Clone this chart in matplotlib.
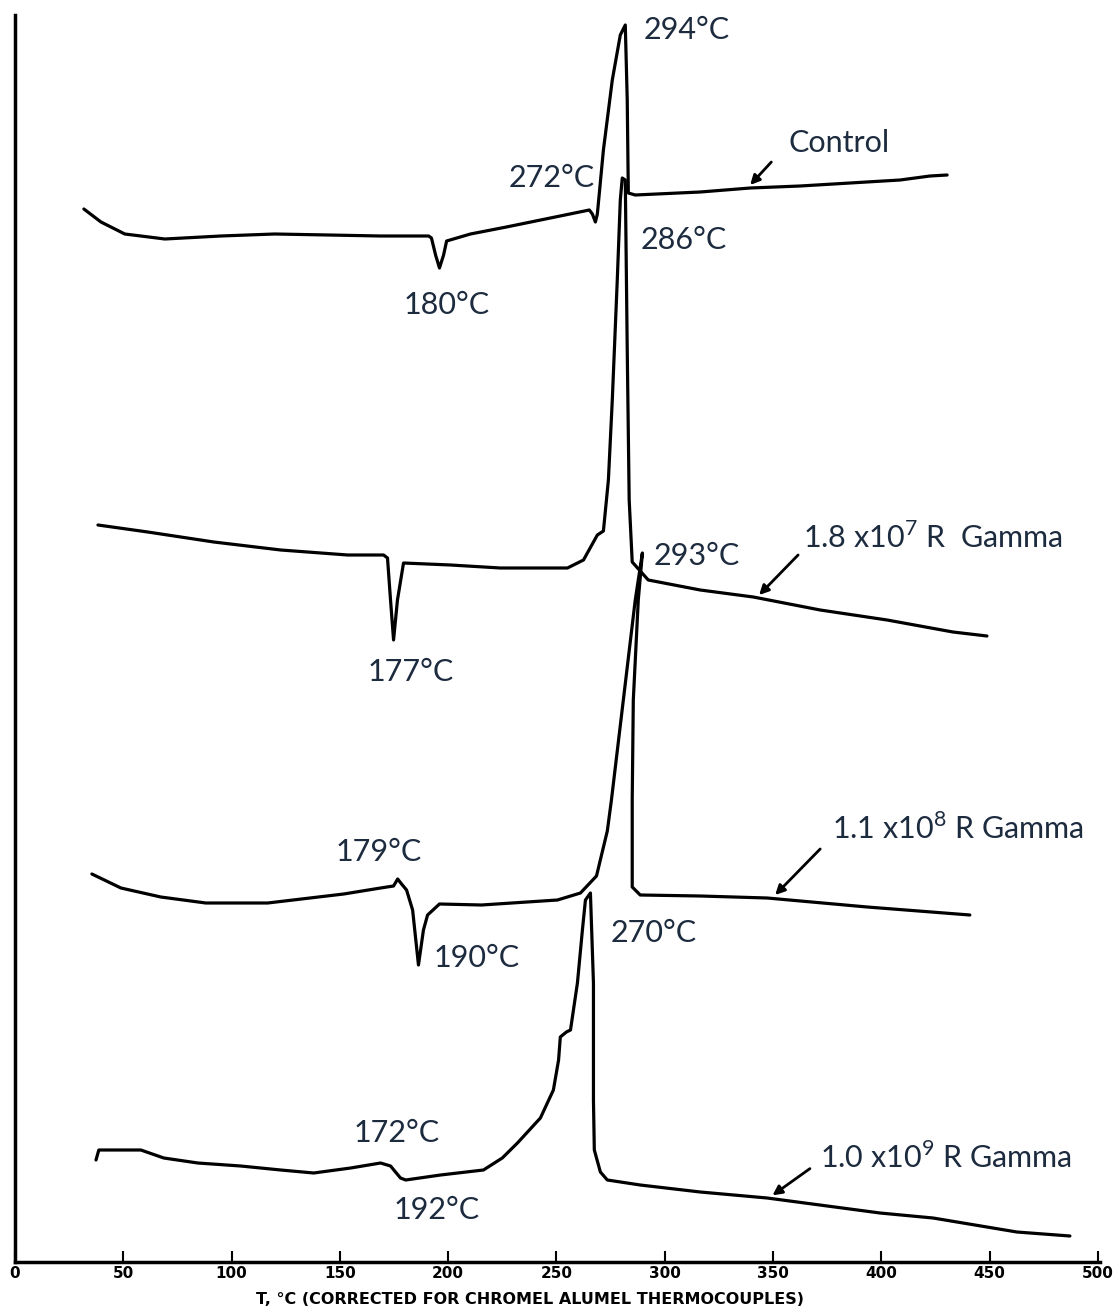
import matplotlib.pyplot as plt

# temperatures (deg C) and signal heights (arbitrary units)
t_control = [31.8, 39.7, 50.7, 69.2, 95.0, 119.9, 144.8, 168.8, 191.0, 192.3, 194.2, 196.0, 197.9,
             199.3, 210.3, 226.9, 247.2, 265.2, 266.6, 268.0, 268.9, 271.7, 275.8, 279.5, 281.8,
             282.7, 283.2, 286.4, 316.4, 339.5, 362.5, 385.6, 408.7, 422.5, 430.4]
y_control = [1053, 1040, 1028, 1023, 1026, 1028, 1027, 1026, 1026, 1024, 1007, 994, 1007,
             1021, 1028, 1035, 1044, 1052, 1048, 1040, 1048, 1112, 1182, 1227, 1237,
             1162, 1069, 1067, 1070, 1074, 1076, 1079, 1082, 1086, 1087]

t_18e7 = [38.3, 61.3, 91.8, 122.7, 153.6, 170.2, 172.0, 173.4, 174.8, 176.6, 179.4, 201.1, 224.2,
          255.1, 262.5, 268.9, 271.7, 274.0, 275.8, 278.1, 279.5, 280.4, 281.8, 282.7, 283.6,
          285.0, 292.4, 316.4, 340.9, 371.8, 402.7, 433.1, 448.8]
y_18e7 = [737, 730, 720, 712, 707, 707, 704, 662, 622, 662, 699, 697, 694,
          694, 702, 727, 731, 782, 862, 982, 1062, 1084, 1082, 912, 762,
          700, 682, 672, 665, 652, 642, 630, 626]

t_11e8 = [35.5, 48.9, 67.3, 88.1, 116.7, 151.8, 168.8, 174.8, 176.7, 178.5, 180.8, 183.6, 186.3,
          188.6, 190.5, 196.0, 215.4, 250.5, 261.1, 268.5, 273.5, 275.4, 280.9, 286.4, 289.7,
          287.8, 285.5, 285.0, 285.0, 288.7, 316.4, 347.3, 393.5, 440.9]
y_11e8 = [388, 374, 365, 359, 359, 368, 374, 376, 383, 378, 372, 352, 297,
          332, 347, 358, 357, 362, 369, 386, 431, 462, 562, 662, 709,
          662, 562, 462, 375, 367, 366, 364, 355, 347]

t_10e9 = [37.4, 38.7, 58.1, 68.7, 84.4, 104.2, 122.7, 137.9, 155.0, 168.8, 173.4, 178.0, 180.4,
          196.5, 216.3, 225.0, 232.0, 242.6, 248.6, 251.0, 251.8, 254.6, 256.5, 259.7, 262.0, 263.4,
          265.7, 267.1, 267.1, 267.5, 270.3, 273.5, 288.7, 316.4, 347.3, 399.4, 423.9, 462.6, 487.1]
y_10e9 = [102, 112, 112, 104, 99, 96, 92, 89, 94, 99, 96, 84, 82,
          87, 92, 104, 119, 144, 172, 202, 225, 230, 232, 279, 332, 362,
          369, 279, 162, 112, 90, 82, 77, 70, 64, 49, 44, 30, 26]

x_ticks = [0, 50, 100, 150, 200, 250, 300, 350, 400, 450, 500]

# peak labels: text, x, y, alignment
peak_labels = [
    ('294°C', 290.1, 1232, 'left'),
    ('272°C', 267.5, 1084, 'right'),
    ('180°C', 199.3, 957, 'center'),
    ('286°C', 288.7, 1022, 'left'),
    ('177°C', 182.7, 590, 'center'),
    ('293°C', 294.7, 706, 'left'),
    ('179°C', 167.9, 410, 'center'),
    ('190°C', 213.1, 304, 'center'),
    ('270°C', 274.9, 329, 'left'),
    ('172°C', 176.2, 129, 'center'),
    ('192°C', 194.6, 52, 'center'),
]

# curve names with label position and arrow tip / tail
curve_names = ['Control', '1.8 x10$^7$ R  Gamma', '1.1 x10$^8$ R Gamma', '1.0 x10$^9$ R Gamma']
name_xy = [(357.0, 1119), (363.9, 725), (377.3, 434), (371.8, 105)]
arrow_tip = [(338.6, 1075), (342.7, 665), (350.1, 365), (348.7, 65)]
arrow_tail = [(350.1, 1102), (362.5, 709), (372.7, 415), (368.1, 95)]

plt.rcParams['mathtext.fontset'] = 'custom'
plt.rcParams['mathtext.rm'] = 'Lato'

fig = plt.figure(figsize=(11.15, 13.1), dpi=100)
ax = fig.add_axes([15 / 1115, 48 / 1310, 1085 / 1115, 1247 / 1310])

for t, y in [(t_control, y_control), (t_18e7, y_18e7), (t_11e8, y_11e8), (t_10e9, y_10e9)]:
    ax.plot(t, y, color='black', lw=2.3, solid_joinstyle='round', solid_capstyle='round')

txt_color = '#1d2b3f'
for s, x, y, ha in peak_labels:
    ax.text(x, y, s, ha=ha, va='center', fontsize=22, family='Lato', color=txt_color)

for name, (nx, ny), tip, tail in zip(curve_names, name_xy, arrow_tip, arrow_tail):
    ax.text(nx, ny, name, ha='left', va='center', fontsize=22, family='Lato', color=txt_color)
    ax.annotate('', xy=tip, xytext=tail,
                arrowprops=dict(arrowstyle='-|>', color='black', lw=2, mutation_scale=14))

ax.set_xlim(0, 501)
ax.set_ylim(0, 1247)
ax.set_xticks(x_ticks)
ax.set_xticklabels([str(v) for v in x_ticks], fontsize=11, fontweight='bold')
ax.set_yticks([])
ax.tick_params(axis='x', direction='in', length=8, width=1.5, pad=3)
ax.spines['top'].set_visible(False)
ax.spines['right'].set_visible(False)
ax.spines['left'].set_linewidth(2.5)
ax.spines['bottom'].set_linewidth(2.5)

fig.text(530 / 1115, 1 - 1300 / 1310, 'T, °C (CORRECTED FOR CHROMEL ALUMEL THERMOCOUPLES)',
         ha='center', va='center', fontsize=11.5, fontweight='bold')

fig.savefig('out.png', dpi=100)
